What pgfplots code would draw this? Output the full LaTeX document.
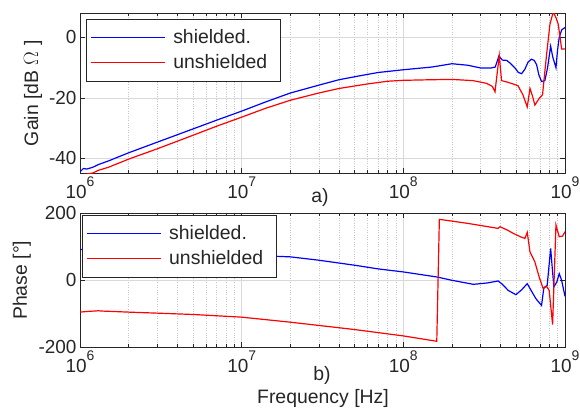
\documentclass[border=0pt]{standalone}
\usepackage{pgfplots}
\pgfplotsset{compat=1.18}
\usepackage{fontspec}
\setmainfont{Liberation Sans}
\definecolor{axc}{HTML}{262626}
\definecolor{mblue}{RGB}{0,0,255}
\definecolor{mred}{RGB}{255,0,0}
\newcommand{\tp}[1]{10\raisebox{12bp}{\fontsize{14}{14}\selectfont #1}}
\pgfplotsset{myax/.style={
  xmin=1e6, xmax=1e9,
  scale only axis, width=485bp,
  xtick={1e6,1e7,1e8,1e9}, xticklabels={\tp{6},\tp{7},\tp{8},\tp{9}},
  axis line style={axc, line width=0.7pt},
  tick style={axc, line width=0.5pt},
  tick align=inside, major tick length=5bp, minor tick length=3bp,
  xmajorgrids, ymajorgrids, xminorgrids,
  major grid style={gray!30, line width=0.5pt},
  minor grid style={gray!45, dotted, line width=0.5pt},
  ticklabel style={font=\fontsize{19}{22}\selectfont, text=axc},
  /pgf/number format/assume math mode=true,
  legend style={font=\fontsize{19.5}{23}\selectfont, draw=axc, line width=0.7pt, fill=white,
    inner xsep=4bp, inner ysep=8bp, row sep=4bp, nodes={inner sep=2.7bp, text=axc}},
  legend cell align=left,
  legend image code/.code={\draw[##1, line width=1.2pt] (0bp,0bp) -- (74bp,0bp); \path (79bp,0bp);},
  every axis plot/.append style={line width=1.2pt},
}}
\begin{document}
\begin{tikzpicture}
\useasboundingbox (0bp,0bp) rectangle (580bp,-410bp);
% ---- top: gain ----
\begin{semilogxaxis}[myax, at={(80bp,-173.3bp)}, anchor=south west, height=160bp,
  ymin=-45, ymax=8, ytick={-40,-20,0},
  ylabel={Gain [dB $\Omega$ ]},
  every axis y label/.style={at={(axis description cs:-0.097,0.5)}, rotate=90, anchor=center,
    font=\fontsize{19.5}{23}\selectfont, text=axc},
  legend style={at={(axis description cs:0.0124,0.966)}, anchor=north west},
]
\addplot[mblue] coordinates {
(1e6,-44.5) (1.05e6,-43.4) (1.1e6,-43.6) (1.2e6,-43.0) (1.3e6,-42.1) (1.5e6,-40.9)
(2e6,-38.2) (3e6,-34.7) (5e6,-30.3) (7e6,-27.4) (1e7,-24.4) (1.4e7,-21.4)
(2e7,-18.4) (3e7,-15.8) (4e7,-14.0) (5.5e7,-12.6) (7e7,-11.6) (1e8,-10.7)
(1.5e8,-9.8) (2e8,-8.7) (2.5e8,-9.2) (3e8,-10.1) (3.5e8,-10.1) (3.7e8,-9.8)
(3.9e8,-6.2) (4.1e8,-7.5) (4.36e8,-7.6) (4.6e8,-8.6) (4.9e8,-10.1) (5.15e8,-11.6)
(5.39e8,-12.0) (5.65e8,-10.5) (5.9e8,-8.2) (6.2e8,-7.2) (6.45e8,-7.6) (6.67e8,-9.0)
(6.9e8,-12.5) (7.16e8,-14.6) (7.51e8,-14.3) (7.8e8,-10.0) (8.15e8,-2.9) (8.4e8,-6.5)
(8.79e8,-10.0) (9.0e8,-4.0) (9.21e8,0) (9.53e8,2.5) (1e9,3.3)
};
\addlegendentry{shielded.}
\addplot[mred] coordinates {
(1e6,-45.8) (1.1e6,-45.3) (1.2e6,-44.9) (1.3e6,-44.0) (1.5e6,-43.0)
(2e6,-40.3) (3e6,-36.9) (5e6,-32.4) (7e6,-29.4) (1e7,-26.4) (1.4e7,-23.5)
(2e7,-20.8) (3e7,-18.4) (4e7,-16.9) (6e7,-15.4) (8e7,-14.5) (1e8,-14.2)
(1.5e8,-14.0) (2e8,-13.9) (2.7e8,-14.3) (3.27e8,-15.2) (3.55e8,-16.2) (3.69e8,-18.0)
(3.92e8,-6.0) (4.05e8,-14.3) (4.4e8,-14.8) (4.77e8,-15.4) (5.12e8,-16.0) (5.49e8,-19.0)
(5.84e8,-23.0) (6.07e8,-16.9) (6.3e8,-19.5) (6.51e8,-22.4) (6.92e8,-20.2) (7.26e8,-19.0)
(7.69e8,-5.7) (8.07e8,4.4) (8.46e8,8.5) (8.8e8,6.5) (9.08e8,4.4) (9.53e8,-3.8) (1e9,-3.8)
};
\addlegendentry{unshielded\hspace*{6bp}}
\end{semilogxaxis}
\node[font=\fontsize{19.5}{23}\selectfont, text=axc] at (320bp,-197bp) {a)};
% ---- bottom: phase ----
\begin{semilogxaxis}[myax, at={(80bp,-347.3bp)}, anchor=south west, height=134bp,
  ymin=-200, ymax=200, ytick={-200,0,200},
  ylabel={Phase [°]},
  every axis y label/.style={at={(axis description cs:-0.12,0.5)}, rotate=90, anchor=center,
    font=\fontsize{19.5}{23}\selectfont, text=axc},
  legend style={at={(axis description cs:0.004,0.99)}, anchor=north west},
]
\addplot[mblue] coordinates {
(1e6,92) (1.2e6,90) (1.5e6,89) (2e6,88) (3e6,86) (5e6,83) (1e7,78) (1.57e7,72)
(2e7,70) (3e7,60) (5e7,45) (7e7,34) (1e8,25) (1.61e8,10) (2e8,0) (2.71e8,-12)
(3.3e8,-8) (3.86e8,-2) (4.1e8,-12) (4.45e8,-30) (4.97e8,-43) (5.4e8,-28)
(5.84e8,-10) (6.2e8,-32) (6.61e8,-55) (7.16e8,-75) (7.4e8,-22) (7.76e8,-15)
(8.15e8,95) (8.53e8,-20) (8.9e8,-5) (9.21e8,20) (9.53e8,0) (1e9,-48)
};
\addlegendentry{shielded.}
\addplot[mred] coordinates {
(1e6,-95) (1.1e6,-93) (1.2e6,-92) (1.3e6,-91) (1.4e6,-92) (1.6e6,-93) (2e6,-95)
(3e6,-98) (5e6,-102) (1e7,-110) (2e7,-125) (5e7,-147) (1e8,-166) (1.61e8,-182)
(1.67e8,182) (2.5e8,170) (3.86e8,155) (3.96e8,160) (4.4e8,150) (4.79e8,140)
(5.3e8,130) (5.65e8,125) (5.84e8,143) (6.07e8,85) (6.51e8,55) (6.92e8,10)
(7.33e8,-25) (7.69e8,-18) (7.98e8,-30) (8.38e8,-132) (8.79e8,165) (9.21e8,130)
(9.66e8,132) (1e9,145)
};
\addlegendentry{unshielded\hspace*{6bp}}
\end{semilogxaxis}
\node[font=\fontsize{19.5}{23}\selectfont, text=axc] at (322bp,-375bp) {b)};
\node[font=\fontsize{19.5}{23}\selectfont, text=axc] at (323bp,-398bp) {Frequency [Hz]};
\end{tikzpicture}
\end{document}
